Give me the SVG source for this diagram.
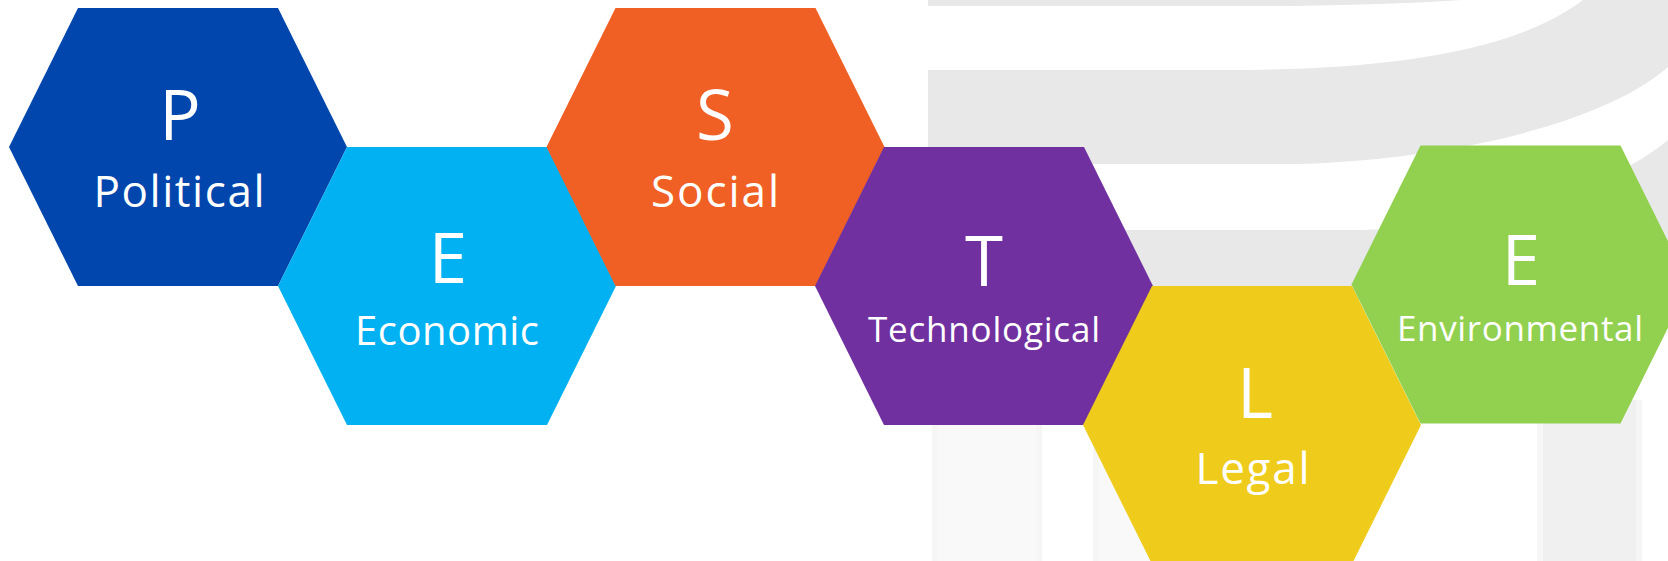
<svg xmlns="http://www.w3.org/2000/svg" width="1668" height="561" viewBox="0 0 1668 561">
  <style>
    .band { fill: #e8e8e8; }
    .col1 { fill: #f9f9f9; }
    .col2 { fill: #f0f0f0; }
    .colEdge { fill: #f6f6f6; }
    .big { font-family: "Open Sans", "Noto Sans", sans-serif; font-size: 69px; fill: #ffffff; text-anchor: middle; }
    .sub { font-family: "Open Sans", "Noto Sans", sans-serif; font-size: 44px; fill: #ffffff; text-anchor: middle; }
    .sub2 { font-family: "Open Sans", "Noto Sans", sans-serif; font-size: 35px; fill: #ffffff; text-anchor: middle; }
  </style>
  <defs>
    <polygon id="hex" points="-169,0 -100,-139 100,-139 169,0 100,139 -100,139"/>
  </defs>
  <rect width="1668" height="561" fill="#ffffff"/>
  <g id="watermark">
    <path class="band" d="M928,0 H1462 C1420,3 1360,5 1290,6 H928 Z"/>
    <path class="band" d="M928,70 H1250 C1380,68 1510,55 1583,0 H1668 V67 C1610,118 1470,158 1300,164 H928 Z"/>
    <path class="band" d="M928,230 H1360 C1480,228 1600,195 1668,140 V300 H928 Z"/>
    <rect class="colEdge" x="932" y="420" width="110" height="141"/>
    <rect class="col1" x="938" y="420" width="98" height="141"/>
    <rect class="colEdge" x="1093" y="420" width="110" height="141"/>
    <rect class="col1" x="1099" y="420" width="98" height="141"/>
    <rect class="colEdge" x="1537" y="400" width="105" height="161"/>
    <rect class="col2" x="1543" y="400" width="93" height="161"/>
  </g>
  <g id="connectors"/>
  <g id="node-political">
    <use href="#hex" x="178" y="147" fill="#0046ad"/>
    <text class="big" x="180" y="140">P</text>
    <text class="sub" x="179" y="207" textLength="171" lengthAdjust="spacing">Political</text>
  </g>
  <g id="node-economic">
    <use href="#hex" x="447" y="286" fill="#02b1f1"/>
    <text class="big" x="448" y="283">E</text>
    <text class="sub" x="447" y="345" style="font-size:40px" textLength="184" lengthAdjust="spacing">Economic</text>
  </g>
  <g id="node-social">
    <use href="#hex" x="715.5" y="147" fill="#f05f23"/>
    <text class="big" x="715" y="140">S</text>
    <text class="sub" x="715" y="207" textLength="128" lengthAdjust="spacing">Social</text>
  </g>
  <g id="node-technological">
    <use href="#hex" x="984" y="286" fill="#7030a0"/>
    <text class="big" x="984" y="286">T</text>
    <text class="sub2" x="984" y="342" textLength="232" lengthAdjust="spacing">Technological</text>
  </g>
  <g id="node-legal">
    <use href="#hex" x="1252" y="425" fill="#efcc1b"/>
    <text class="big" x="1255" y="418">L</text>
    <text class="sub" x="1252.5" y="484" textLength="114" lengthAdjust="spacing">Legal</text>
  </g>
  <g id="node-environmental">
    <use href="#hex" x="1520.5" y="284.5" fill="#92d050"/>
    <text class="big" x="1521" y="285">E</text>
    <text class="sub2" x="1520" y="341" textLength="246" lengthAdjust="spacing">Environmental</text>
  </g>
</svg>
